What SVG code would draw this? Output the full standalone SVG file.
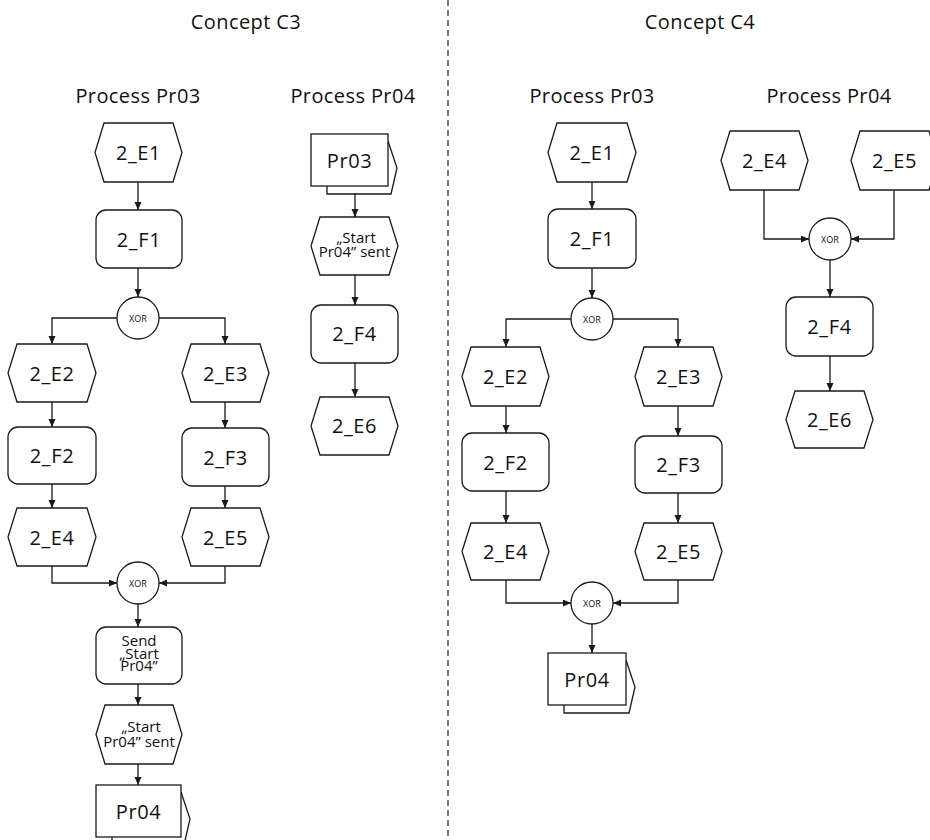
<svg xmlns="http://www.w3.org/2000/svg" width="930" height="840" viewBox="0 0 930 840">
<defs>
<marker id="arr" markerUnits="userSpaceOnUse" markerWidth="9" markerHeight="8" refX="8" refY="3.5" orient="auto">
<path d="M0,0 L8,3.5 L0,7 z" fill="#1a1a1a"/>
</marker>
<style>
.s{fill:#fff;stroke:#1a1a1a;stroke-width:1.3}
.b{fill:none;stroke:#1a1a1a;stroke-width:1.3}
.c{fill:none;stroke:#1a1a1a;stroke-width:1.3;marker-end:url(#arr)}
.t{font-family:"Open Sans","DejaVu Sans",sans-serif;fill:#111;text-anchor:middle}
.ti{font-size:20px;letter-spacing:0.4px}
.l{font-size:20px;letter-spacing:0.6px}
.m{font-size:15px}
.x{font-size:9px}
</style>
</defs>
<rect width="930" height="840" fill="#fff"/>
<line x1="448" y1="0" x2="448" y2="840" stroke="#333" stroke-width="1.3" stroke-dasharray="6,4"/>
<text class="t ti" x="246" y="29">Concept C3</text>
<text class="t ti" x="700" y="29">Concept C4</text>
<text class="t ti" x="138" y="103">Process Pr03</text>
<text class="t ti" x="353" y="103">Process Pr04</text>
<text class="t ti" x="592" y="103">Process Pr03</text>
<text class="t ti" x="829" y="103">Process Pr04</text>

<g id="connectors">
<line class="c" x1="138" y1="182" x2="138" y2="210"/>
<line class="c" x1="138" y1="268" x2="138" y2="297"/>
<polyline class="c" points="117,318 52,318 52,344"/>
<polyline class="c" points="159,318 225,318 225,344"/>
<line class="c" x1="52" y1="402" x2="52" y2="427"/>
<line class="c" x1="225" y1="402" x2="225" y2="428"/>
<line class="c" x1="52" y1="484" x2="52" y2="508"/>
<line class="c" x1="225" y1="486" x2="225" y2="508"/>
<polyline class="c" points="52,566 52,583 117,583"/>
<polyline class="c" points="225,566 225,583 159,583"/>
<line class="c" x1="138" y1="604" x2="138" y2="627"/>
<line class="c" x1="138" y1="684" x2="138" y2="705"/>
<line class="c" x1="138" y1="764" x2="138" y2="785"/>
<line class="c" x1="355" y1="193" x2="355" y2="217"/>
<line class="c" x1="355" y1="275" x2="355" y2="305"/>
<line class="c" x1="355" y1="363" x2="355" y2="397"/>
<line class="c" x1="592" y1="182" x2="592" y2="209"/>
<line class="c" x1="592" y1="268" x2="592" y2="298"/>
<polyline class="c" points="571,319 506,319 506,347"/>
<polyline class="c" points="613,319 678,319 678,347"/>
<line class="c" x1="506" y1="406" x2="506" y2="433"/>
<line class="c" x1="678" y1="406" x2="678" y2="436"/>
<line class="c" x1="506" y1="491" x2="506" y2="523"/>
<line class="c" x1="678" y1="493" x2="678" y2="523"/>
<polyline class="c" points="506,580 506,603 571,603"/>
<polyline class="c" points="678,580 678,603 613,603"/>
<line class="c" x1="592" y1="624" x2="592" y2="653"/>
<polyline class="c" points="764,190 764,239 809,239"/>
<polyline class="c" points="894,190 894,239 851,239"/>
<line class="c" x1="830" y1="260" x2="830" y2="297"/>
<line class="c" x1="830" y1="356" x2="830" y2="391"/>
</g>

<g id="c3_pr03_e1"><polygon class="s" points="104,123 173,123 182,152.5 173,182 104,182 95,152.5"/><text class="t l" x="138.5" y="160">2_E1</text></g>
<g id="c3_pr03_f1"><rect class="s" x="96" y="210" width="86" height="58" rx="10"/><text class="t l" x="139" y="246.5">2_F1</text></g>
<g id="c3_pr03_xor1"><circle class="s" cx="138" cy="318" r="21"/><text class="t x" x="138" y="321.5">XOR</text></g>
<g id="c3_pr03_e2"><polygon class="s" points="17,344 87,344 96,373 87,402 17,402 8,373"/><text class="t l" x="52" y="380.5">2_E2</text></g>
<g id="c3_pr03_e3"><polygon class="s" points="191,344 260,344 269,373 260,402 191,402 182,373"/><text class="t l" x="225.5" y="380.5">2_E3</text></g>
<g id="c3_pr03_f2"><rect class="s" x="8" y="427" width="88" height="57" rx="10"/><text class="t l" x="52" y="463">2_F2</text></g>
<g id="c3_pr03_f3"><rect class="s" x="182" y="428" width="87" height="58" rx="10"/><text class="t l" x="225.5" y="464.5">2_F3</text></g>
<g id="c3_pr03_e4"><polygon class="s" points="17,508 87,508 96,537 87,566 17,566 8,537"/><text class="t l" x="52" y="544.5">2_E4</text></g>
<g id="c3_pr03_e5"><polygon class="s" points="191,508 260,508 269,537 260,566 191,566 182,537"/><text class="t l" x="225.5" y="544.5">2_E5</text></g>
<g id="c3_pr03_xor2"><circle class="s" cx="138" cy="583" r="21"/><text class="t x" x="138" y="586.5">XOR</text></g>
<g id="c3_pr03_send"><rect class="s" x="96" y="627" width="86" height="57" rx="10"/><text class="t m" x="139" y="646">Send<tspan x="139" y="658.5">„Start</tspan><tspan x="139" y="671">Pr04”</tspan></text></g>
<g id="c3_pr03_sent"><polygon class="s" points="105,705 173,705 182,734.5 173,764 105,764 96,734.5"/><text class="t m" x="141" y="732">„Start<tspan x="139" y="747">Pr04” sent</tspan></text></g>
<g id="c3_pr03_pr04"><path class="b" d="M181,792 L190,819 L184,845 H112 V837"/><rect class="s" x="96" y="785" width="85" height="52"/><text class="t l" x="138.5" y="818.5">Pr04</text></g>

<g id="c3_pr04_pr03"><path class="b" d="M388,141 L397,168 L391,194 H327 V186"/><rect class="s" x="311" y="134" width="77" height="52"/><text class="t l" x="349.5" y="167.5">Pr03</text></g>
<g id="c3_pr04_sent"><polygon class="s" points="320,217 389,217 398,246 389,275 320,275 311,246"/><text class="t m" x="356" y="243">„Start<tspan x="354.5" y="257">Pr04” sent</tspan></text></g>
<g id="c3_pr04_f4"><rect class="s" x="311" y="305" width="87" height="58" rx="10"/><text class="t l" x="354.5" y="341">2_F4</text></g>
<g id="c3_pr04_e6"><polygon class="s" points="320,397 389,397 398,426 389,455 320,455 311,426"/><text class="t l" x="354.5" y="433">2_E6</text></g>

<g id="c4_pr03_e1"><polygon class="s" points="557,123 627,123 636,152.5 627,182 557,182 548,152.5"/><text class="t l" x="592" y="160">2_E1</text></g>
<g id="c4_pr03_f1"><rect class="s" x="548" y="209" width="88" height="59" rx="10"/><text class="t l" x="592" y="246">2_F1</text></g>
<g id="c4_pr03_xor1"><circle class="s" cx="592" cy="319" r="21"/><text class="t x" x="592" y="322.5">XOR</text></g>
<g id="c4_pr03_e2"><polygon class="s" points="471,347 540,347 549,376.5 540,406 471,406 462,376.5"/><text class="t l" x="505.5" y="384">2_E2</text></g>
<g id="c4_pr03_e3"><polygon class="s" points="644,347 713,347 722,376.5 713,406 644,406 635,376.5"/><text class="t l" x="678.5" y="384">2_E3</text></g>
<g id="c4_pr03_f2"><rect class="s" x="462" y="433" width="87" height="58" rx="10"/><text class="t l" x="505.5" y="469.5">2_F2</text></g>
<g id="c4_pr03_f3"><rect class="s" x="635" y="436" width="87" height="57" rx="10"/><text class="t l" x="678.5" y="472">2_F3</text></g>
<g id="c4_pr03_e4"><polygon class="s" points="471,523 540,523 549,551.5 540,580 471,580 462,551.5"/><text class="t l" x="505.5" y="559">2_E4</text></g>
<g id="c4_pr03_e5"><polygon class="s" points="644,523 713,523 722,551.5 713,580 644,580 635,551.5"/><text class="t l" x="678.5" y="559">2_E5</text></g>
<g id="c4_pr03_xor2"><circle class="s" cx="592" cy="603" r="21"/><text class="t x" x="592" y="606.5">XOR</text></g>
<g id="c4_pr03_pr04"><path class="b" d="M626,660 L635,687 L629,713 H564 V705"/><rect class="s" x="548" y="653" width="78" height="52"/><text class="t l" x="587" y="686.5">Pr04</text></g>

<g id="c4_pr04_e4"><polygon class="s" points="730,131 799,131 808,160.5 799,190 730,190 721,160.5"/><text class="t l" x="764.5" y="168">2_E4</text></g>
<g id="c4_pr04_e5"><polygon class="s" points="860,131 929,131 938,160.5 929,190 860,190 851,160.5"/><text class="t l" x="894.5" y="168">2_E5</text></g>
<g id="c4_pr04_xor"><circle class="s" cx="830" cy="239" r="21"/><text class="t x" x="830" y="242.5">XOR</text></g>
<g id="c4_pr04_f4"><rect class="s" x="786" y="297" width="87" height="59" rx="10"/><text class="t l" x="829.5" y="334">2_F4</text></g>
<g id="c4_pr04_e6"><polygon class="s" points="795,391 864,391 873,419.5 864,448 795,448 786,419.5"/><text class="t l" x="829.5" y="427">2_E6</text></g>
</svg>
